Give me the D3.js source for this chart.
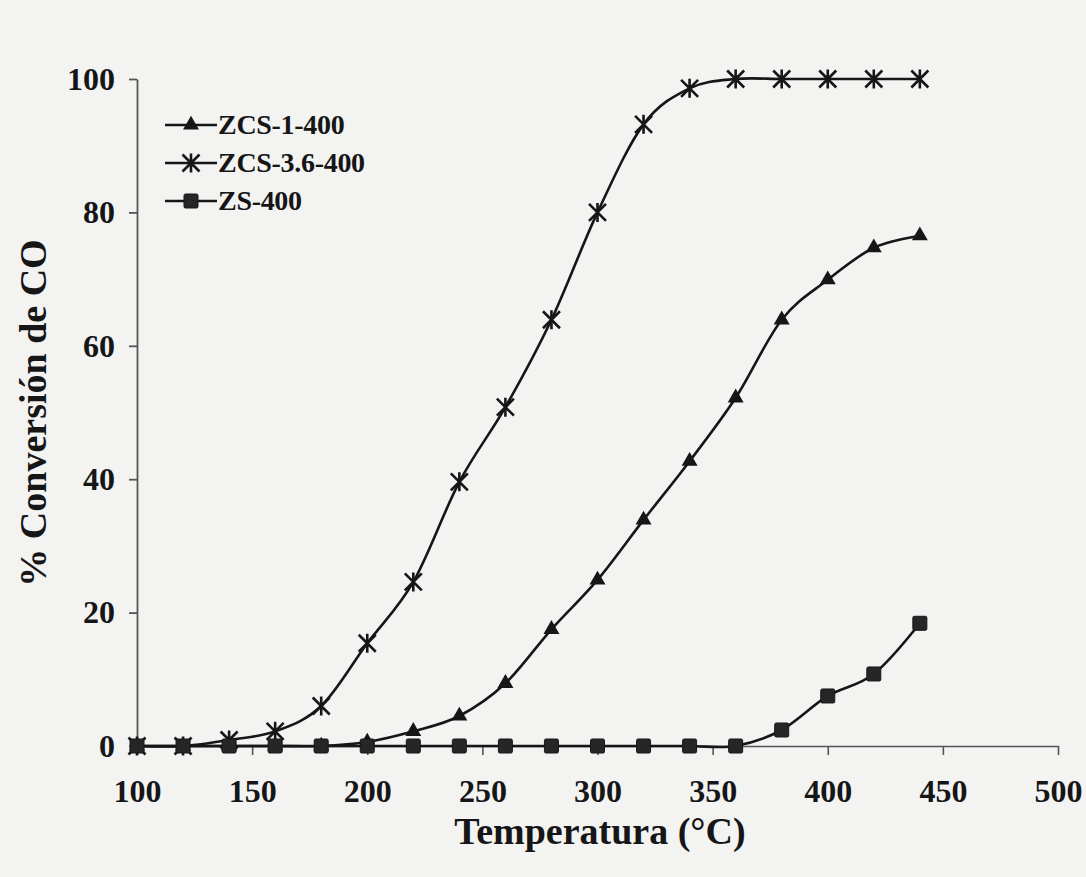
<!DOCTYPE html>
<html>
<head>
<meta charset="utf-8">
<script src="https://cdn.jsdelivr.net/npm/d3@7"></script>
<style>
  html, body { margin: 0; padding: 0; background: #f3f3f2; }
  svg { display: block; }
  text { font-family: "Liberation Serif", "Times New Roman", serif; font-weight: bold; fill: #161616; }
</style>
</head>
<body>
<svg id="chart" width="1086" height="877"></svg>
<script>
// ---- data ----
const temperatures = [100, 120, 140, 160, 180, 200, 220, 240, 260, 280, 300, 320, 340, 360, 380, 400, 420, 440];
const seriesNames = ["ZCS-1-400", "ZCS-3.6-400", "ZS-400"];
const zcs1Values  = [0, 0, 0, 0, 0, 0.6, 2.2, 4.5, 9.4, 17.5, 24.9, 33.9, 42.7, 52.2, 63.9, 69.9, 74.7, 76.5];
const zcs36Values = [0, 0, 0.9, 2.2, 6.0, 15.4, 24.6, 39.6, 50.8, 63.9, 80.0, 93.2, 98.6, 100, 100, 100, 100, 100];
const zsValues    = [0, 0, 0, 0, 0, 0, 0, 0, 0, 0, 0, 0, 0, 0, 2.4, 7.5, 10.8, 18.4];
const xTicks = [100, 150, 200, 250, 300, 350, 400, 450, 500];
const yTicks = [0, 20, 40, 60, 80, 100];
const xTitle = "Temperatura (°C)";
const yTitle = "% Conversión de CO";

const series = [
  { name: seriesNames[0], values: zcs1Values,  marker: "triangle" },
  { name: seriesNames[1], values: zcs36Values, marker: "star" },
  { name: seriesNames[2], values: zsValues,    marker: "square" }
];

const svg = d3.select("#chart");
const ink = "#161616";
const x = d3.scaleLinear().domain([100, 500]).range([137, 1058]);
const y = d3.scaleLinear().domain([0, 100]).range([746, 79]);

// axes
const xAxis = d3.axisBottom(x).tickValues(xTicks).tickSize(9).tickPadding(24).tickSizeOuter(0);
const gx = svg.append("g").attr("transform", `translate(0,${y(0)})`).call(xAxis);
gx.select(".domain").attr("stroke", "#555").attr("stroke-width", 1.6);
gx.selectAll(".tick line").attr("stroke", "#555").attr("stroke-width", 1.6);
gx.selectAll(".tick text").style("font-size", "32px").attr("fill", ink).attr("dy", "0.72em");

const yAxis = d3.axisLeft(y).tickValues(yTicks).tickSize(8).tickPadding(14).tickSizeOuter(0);
const gy = svg.append("g").attr("transform", `translate(${x(100)},0)`).call(yAxis);
gy.select(".domain").attr("stroke", "#555").attr("stroke-width", 1.8);
gy.selectAll(".tick line").attr("stroke", "#555").attr("stroke-width", 1.8);
gy.selectAll(".tick text").style("font-size", "32px").attr("fill", ink);

// axis titles
svg.append("text").attr("x", 600).attr("y", 844).attr("text-anchor", "middle")
  .style("font-size", "38px").text(xTitle);
svg.append("text").attr("transform", `translate(46,413) rotate(-90)`)
  .attr("text-anchor", "middle").style("font-size", "38px").text(yTitle);

// markers
function drawMarker(g, type, cx, cy) {
  if (type === "triangle") {
    g.append("path").attr("d", d3.symbol().type(d3.symbolTriangle).size(110)())
      .attr("transform", `translate(${cx},${cy})`).attr("fill", ink);
  } else if (type === "square") {
    g.append("rect").attr("x", cx - 7).attr("y", cy - 7).attr("width", 14).attr("height", 14)
      .attr("rx", 1.5).attr("fill", "#262626").attr("stroke", ink).attr("stroke-width", 1);
  } else {
    const r = 8.5;
    const p = `M${cx - r},${cy - r}L${cx + r},${cy + r}M${cx - r},${cy + r}L${cx + r},${cy - r}M${cx},${cy - r - 1}L${cx},${cy + r + 1}`;
    g.append("path").attr("d", p).attr("stroke", ink).attr("stroke-width", 2.6).attr("fill", "none");
  }
}

const line = d3.line().x((d, i) => x(temperatures[i])).y(d => y(d)).curve(d3.curveCatmullRom.alpha(0));

series.forEach(s => {
  const g = svg.append("g");
  g.append("path").attr("d", line(s.values)).attr("fill", "none").attr("stroke", ink).attr("stroke-width", 2.6);
  s.values.forEach((v, i) => drawMarker(g, s.marker, x(temperatures[i]), y(v)));
});

// legend
const legend = svg.append("g");
series.forEach((s, i) => {
  const ly = 125 + i * 38;
  legend.append("line").attr("x1", 165).attr("x2", 217).attr("y1", ly).attr("y2", ly)
    .attr("stroke", ink).attr("stroke-width", 2.6);
  drawMarker(legend, s.marker, 191, ly);
  legend.append("text").attr("x", 218).attr("y", ly + 9).style("font-size", "28px")
    .style("letter-spacing", "-0.3px").text(s.name);
});
</script>
</body>
</html>
